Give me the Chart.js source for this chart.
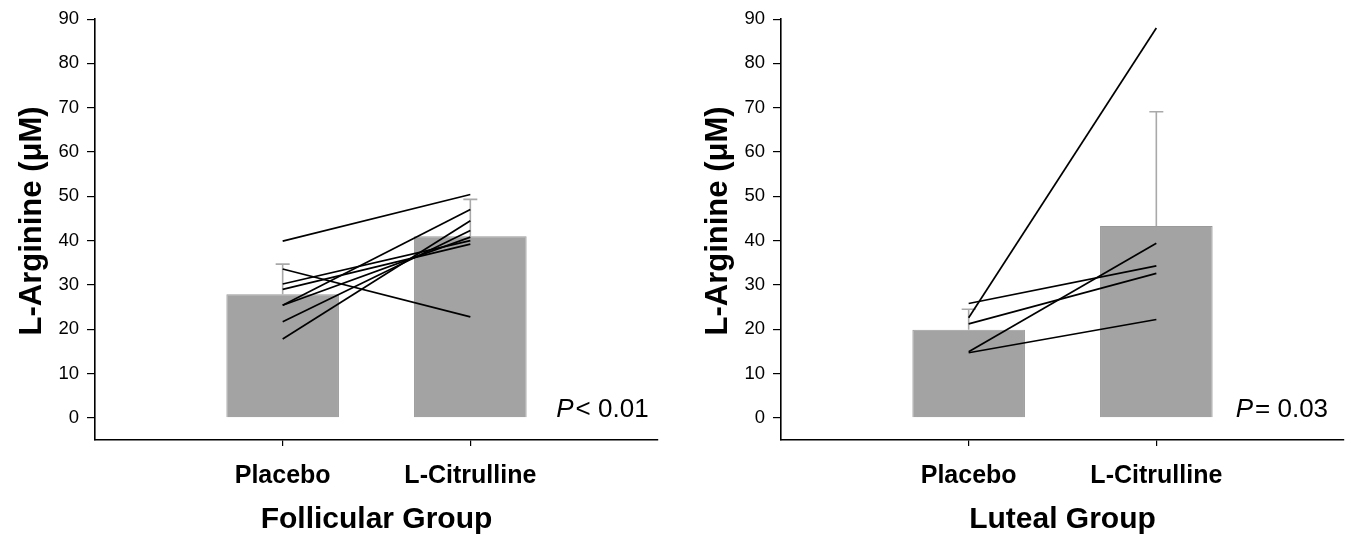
<!DOCTYPE html>
<html>
<head>
<meta charset="utf-8">
<script src="https://cdn.jsdelivr.net/npm/chart.js@4"></script>
<style>
  html, body { margin: 0; padding: 0; background: #fff; }
  body { width: 1347px; height: 535px; position: relative; overflow: hidden; }
  canvas { position: absolute; top: 0; }
  #c1 { left: 0; }
  #c2 { left: 686px; }
</style>
</head>
<body>
<canvas id="c1" width="673" height="535"></canvas>
<canvas id="c2" width="661" height="535"></canvas>
<script>
// ---- data ----
const categories = ['Placebo', 'L-Citrulline'];
const yTicks = [0, 10, 20, 30, 40, 50, 60, 70, 80, 90];

const follicularMeans = [27.9, 41.0];
const follicularSE = [6.8, 8.3];
const follicularPlacebo    = [39.9, 33.6, 30.2, 29.0, 25.4, 25.4, 21.7, 17.8];
const follicularCitrulline = [50.4, 22.8, 40.0, 39.2, 47.0, 40.8, 42.3, 44.5];

const lutealMeans = [19.9, 43.3];
const lutealSE = [4.6, 25.8];
const lutealPlacebo    = [22.6, 25.8, 21.2, 14.9, 14.7];
const lutealCitrulline = [88.0, 34.3, 32.6, 39.4, 22.2];

const FONT = "'Liberation Sans', Arial, Helvetica, sans-serif";

const errorBarPlugin = {
  id: 'errorBars',
  afterDatasetDraw(chart, args, opts) {
    if (args.index !== 0) return;
    const ctx = chart.ctx, xs = chart.scales.x, ys = chart.scales.y;
    const means = opts.means, se = opts.se;
    ctx.save();
    ctx.strokeStyle = '#a9a9a9';
    ctx.lineWidth = 1.6;
    means.forEach((m, i) => {
      const x = xs.getPixelForValue(i + 1);
      const y0 = ys.getPixelForValue(m);
      const y1 = ys.getPixelForValue(m + se[i]);
      ctx.beginPath();
      ctx.moveTo(x, y0); ctx.lineTo(x, y1);
      ctx.moveTo(x - 7, y1); ctx.lineTo(x + 7, y1);
      ctx.stroke();
    });
    ctx.restore();
  }
};

const pTextPlugin = {
  id: 'pText',
  afterDraw(chart, args, opts) {
    const ctx = chart.ctx, xs = chart.scales.x, ys = chart.scales.y;
    const xr = xs.getPixelForValue(opts.xValue);
    const yb = ys.getPixelForValue(0) - 1;
    ctx.save();
    ctx.fillStyle = '#000';
    ctx.textBaseline = 'alphabetic';
    ctx.font = "26px " + FONT;
    const rest = opts.rest;
    const wRest = ctx.measureText(rest).width;
    ctx.textAlign = 'left';
    ctx.fillText(rest, xr - wRest, yb);
    ctx.font = "italic 26px " + FONT;
    const wP = ctx.measureText('P').width;
    ctx.fillText('P', xr - wRest - wP - 2, yb);
    ctx.restore();
  }
};

function makeChart(id, means, se, pre, post, groupTitle, pRest, pX, padRight) {
  const datasets = [{
    type: 'bar',
    data: means.map((v, i) => ({ x: i + 1, y: v })),
    backgroundColor: '#a3a3a3',
    borderColor: '#9a9a9a',
    borderWidth: 1,
    categoryPercentage: 0.6,
    barPercentage: 1.0,
    order: 10
  }];
  pre.forEach((v, i) => {
    datasets.push({
      type: 'line',
      data: [{ x: 1, y: v }, { x: 2, y: post[i] }],
      borderColor: '#000',
      borderWidth: 1.7,
      pointRadius: 0,
      fill: false,
      order: 0
    });
  });
  return new Chart(document.getElementById(id), {
    data: { datasets },
    plugins: [errorBarPlugin, pTextPlugin],
    options: {
      responsive: false,
      animation: false,
      layout: { padding: { top: 18, right: padRight, bottom: 0, left: 0 } },
      plugins: {
        legend: { display: false },
        tooltip: { enabled: false },
        errorBars: { means, se },
        pText: { rest: pRest, xValue: pX }
      },
      scales: {
        x: {
          type: 'linear',
          min: 0, max: 3,
          offset: false,
          bounds: 'data',
          afterBuildTicks: s => { s.ticks = categories.map((c, i) => ({ value: i + 1 })); },
          afterFit: s => { s.height = 95; },
          ticks: {
            callback: v => categories[v - 1],
            color: '#000',
            padding: 15,
            maxRotation: 0,
            autoSkip: false,
            font: { family: FONT, size: 25, weight: 'bold' }
          },
          grid: { display: true, offset: false, drawOnChartArea: false, drawTicks: true, tickLength: 6, color: '#000', lineWidth: 1.2 },
          border: { display: true, color: '#000', width: 1.6 },
          title: {
            display: true, text: groupTitle, color: '#000',
            font: { family: FONT, size: 30, weight: 'bold', lineHeight: 1.05 },
            padding: { top: 6, bottom: 0 }
          }
        },
        y: {
          type: 'linear',
          min: -5, max: 90,
          afterBuildTicks: s => { s.ticks = yTicks.map(v => ({ value: v })); },
          afterFit: s => { s.width = 95; },
          ticks: {
            color: '#000',
            padding: 8,
            font: { family: FONT, size: 18.5 }
          },
          grid: { display: true, drawOnChartArea: false, drawTicks: true, tickLength: 8, color: '#000', lineWidth: 1.2 },
          border: { display: true, color: '#000', width: 1.6 },
          title: {
            display: true, text: '  L-Arginine (\u03BCM)', color: '#000',
            font: { family: FONT, size: 31, weight: 'bold', lineHeight: 1.1 },
            padding: { top: 15, bottom: 0 }
          }
        }
      }
    }
  });
}

makeChart('c1', follicularMeans, follicularSE, follicularPlacebo, follicularCitrulline,
  'Follicular Group', '< 0.01', 2.95, 15);
makeChart('c2', lutealMeans, lutealSE, lutealPlacebo, lutealCitrulline,
  'Luteal Group', '= 0.03', 2.915, 3);
</script>
</body>
</html>
